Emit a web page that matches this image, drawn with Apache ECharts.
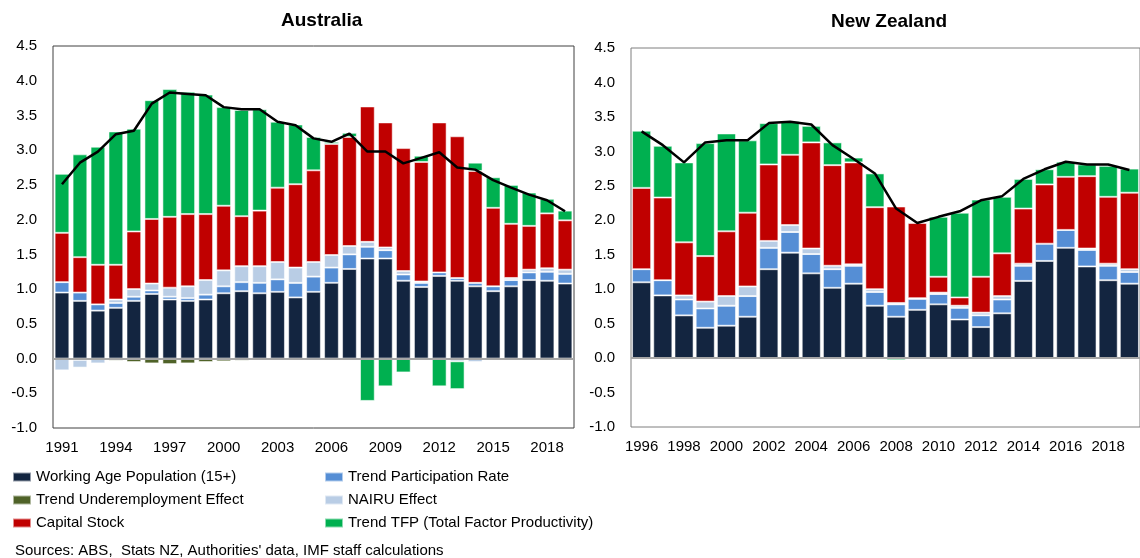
<!DOCTYPE html>
<html>
<head>
<meta charset="utf-8">
<script src="https://cdn.jsdelivr.net/npm/echarts@6/dist/echarts.min.js"></script>
<style>
  html, body { margin: 0; padding: 0; background: #fff; }
  #main { width: 1140px; height: 558px; }
</style>
</head>
<body>
<div id="main"></div>
<script>
// Australia 1991-2019
let auYears = ['1991','1992','1993','1994','1995','1996','1997','1998','1999','2000','2001','2002','2003','2004','2005','2006','2007','2008','2009','2010','2011','2012','2013','2014','2015','2016','2017','2018','2019']
let auWorkingAge = [0.95,0.83,0.69,0.73,0.83,0.93,0.85,0.83,0.85,0.94,0.97,0.94,0.96,0.88,0.96,1.09,1.29,1.44,1.44,1.12,1.03,1.19,1.12,1.04,0.97,1.04,1.13,1.12,1.08]
let auParticipation = [0.15,0.12,0.09,0.07,0.06,0.05,0.04,0.04,0.07,0.10,0.13,0.15,0.18,0.21,0.22,0.22,0.21,0.17,0.12,0.09,0.06,0.05,0.04,0.05,0.07,0.09,0.11,0.13,0.14]
let auUnderemployment = [0,-0.02,0,-0.03,-0.05,-0.07,-0.08,-0.07,-0.05,-0.04,-0.03,-0.01,0,0,0,0,0,0,0,0,0,0,0,0,0,0,0,0,0]
let auNairu = [-0.17,-0.11,-0.07,0.05,0.11,0.10,0.13,0.17,0.21,0.23,0.23,0.24,0.25,0.22,0.21,0.18,0.12,0.07,0.04,0.05,0.02,0,-0.04,-0.05,0,0.03,0.04,0.05,0.06]
let auCapital = [0.71,0.51,0.57,0.50,0.83,0.93,1.02,1.04,0.95,0.93,0.72,0.80,1.07,1.20,1.32,1.60,1.57,1.95,1.80,1.77,1.72,2.16,2.04,1.61,1.13,0.78,0.63,0.79,0.71]
let auTfp = [0.85,1.48,1.70,1.92,1.48,1.71,1.84,1.76,1.72,1.42,1.53,1.46,0.95,0.86,0.48,0.03,0.06,-0.61,-0.40,-0.20,0.09,-0.40,-0.40,0.12,0.44,0.56,0.48,0.21,0.14]
let auPotential = [2.51,2.82,2.98,3.23,3.28,3.67,3.83,3.81,3.79,3.62,3.59,3.59,3.41,3.36,3.17,3.12,3.24,2.98,2.98,2.81,2.89,2.97,2.75,2.72,2.57,2.46,2.36,2.28,2.12]

// New Zealand 1996-2019
let nzYears = ['1996','1997','1998','1999','2000','2001','2002','2003','2004','2005','2006','2007','2008','2009','2010','2011','2012','2013','2014','2015','2016','2017','2018','2019']
let nzWorkingAge = [1.10,0.91,0.62,0.44,0.47,0.60,1.29,1.53,1.23,1.02,1.08,0.76,0.60,0.70,0.78,0.56,0.45,0.65,1.12,1.41,1.60,1.33,1.13,1.08]
let nzParticipation = [0.19,0.22,0.23,0.28,0.29,0.30,0.31,0.30,0.28,0.27,0.26,0.20,0.18,0.16,0.15,0.17,0.17,0.20,0.22,0.25,0.26,0.24,0.21,0.17]
let nzUnderemployment = [0,0,0,0,0,0,0,0,0,0,0,0,0,0,0,0,0,0,0,0,0,0,0,0]
let nzNairu = [-0.02,0,0.06,0.10,0.14,0.14,0.10,0.10,0.08,0.05,0.02,0.04,0.02,0.01,0.02,0.03,0.04,0.05,0.03,0,0,0.02,0.03,0.04]
let nzCapital = [1.18,1.20,0.77,0.66,0.94,1.07,1.11,1.02,1.54,1.46,1.48,1.19,1.40,1.09,0.23,0.12,0.52,0.62,0.80,0.86,0.77,1.05,0.97,1.11]
let nzTfp = [0.83,0.75,1.16,1.64,1.42,1.05,0.60,0.49,0.24,0.33,0.07,0.49,-0.03,-0.02,0.87,1.23,1.12,0.82,0.43,0.22,0.22,0.17,0.45,0.35]
let nzPotential = [3.29,3.09,2.84,3.13,3.16,3.16,3.41,3.43,3.39,3.09,2.89,2.68,2.17,1.96,2.05,2.13,2.29,2.35,2.60,2.74,2.85,2.81,2.81,2.73]

let names = ['Working Age Population (15+)','Trend Participation Rate','Trend Underemployment Effect','NAIRU Effect','Capital Stock','Trend TFP (Total Factor Productivity)']
let colors = ['#132540','#558ED5','#4F6228','#B9CDE5','#C00000','#00B050']

let font = "'Liberation Sans', Arial, sans-serif"

function barSeries(idx, stack, data, gap){
	let s = {
		name: names[idx],
		type: 'bar',
		stack: stack,
		xAxisIndex: stack == 'au' ? 0 : 1,
		yAxisIndex: stack == 'au' ? 0 : 1,
		barCategoryGap: gap,
		data: data,
		itemStyle: {
			color: colors[idx],
			borderColor: 'rgba(255,255,255,0.55)',
			borderWidth: 1
		}
	}
	if(idx == 0){
		// grey zero line across the plot
		s.markLine = {
			silent: true,
			symbol: 'none',
			label: { show: false },
			lineStyle: { color: '#A6A6A6', width: 2, type: 'solid' },
			data: [{ yAxis: 0 }]
		}
	}
	return s
}

function lineSeries(stackIdx, data){
	return {
		name: 'Potential',
		type: 'line',
		xAxisIndex: stackIdx,
		yAxisIndex: stackIdx,
		data: data,
		symbol: 'none',
		z: 5,
		lineStyle: { color: '#000', width: 2.5 }
	}
}

function yAxis(gridIndex){
	return {
		type: 'value',
		gridIndex: gridIndex,
		min: -1,
		max: 4.5,
		interval: 0.5,
		axisLine: { show: false },
		axisTick: { show: false },
		splitLine: { show: false },
		axisLabel: {
			color: '#000',
			fontSize: 15,
			fontFamily: font,
			margin: 16,
			formatter: function(v){ return v.toFixed(1) }
		}
	}
}

function legend(left, items){
	return {
		orient: 'vertical', left: left, top: 469, padding: 0,
		itemWidth: 18, itemHeight: 9, itemGap: 7,
		icon: 'rect',
		textStyle: { fontSize: 15, color: '#000', fontFamily: font, lineHeight: 16 },
		data: items
	}
}

let myChart = echarts.init(document.getElementById('main'))
let option = {
	animation: false,
	backgroundColor: '#fff',
	title: [
		{ text: 'Australia', left: 281, top: 11, padding: 0, textStyle: { fontSize: 19, fontWeight: 'bold', color: '#000', fontFamily: font } },
		{ text: 'New Zealand', left: 831, top: 12, padding: 0, textStyle: { fontSize: 19, fontWeight: 'bold', color: '#000', fontFamily: font } }
	],
	grid: [
		{ left: 53, top: 46, width: 521, height: 382, show: true, borderColor: '#404040', borderWidth: 1 },
		{ left: 631, top: 48, width: 515, height: 379, show: true, borderColor: '#7F7F7F', borderWidth: 1 }
	],
	legend: [
		legend(12, [names[0], names[2], names[4]]),
		legend(324, [names[1], names[3], names[5]])
	],
	graphic: [
		{
			type: 'text', left: 15, top: 543,
			style: { text: "Sources: ABS,  Stats NZ, Authorities' data, IMF staff calculations", fill: '#000', font: '15px ' + font }
		}
	],
	xAxis: [
		{
			type: 'category', gridIndex: 0, data: auYears,
			axisLine: { show: false }, axisTick: { show: false },
			axisLabel: { interval: 2, color: '#000', fontSize: 15, fontFamily: font, margin: 12 }
		},
		{
			type: 'category', gridIndex: 1, data: nzYears,
			axisLine: { show: false }, axisTick: { show: false },
			axisLabel: { interval: 1, color: '#000', fontSize: 15, fontFamily: font, margin: 12 }
		}
	],
	yAxis: [yAxis(0), yAxis(1)],
	series: [
		barSeries(0, 'au', auWorkingAge, '18%'),
		barSeries(1, 'au', auParticipation, '18%'),
		barSeries(2, 'au', auUnderemployment, '18%'),
		barSeries(3, 'au', auNairu, '18%'),
		barSeries(4, 'au', auCapital, '18%'),
		barSeries(5, 'au', auTfp, '18%'),
		lineSeries(0, auPotential),
		barSeries(0, 'nz', nzWorkingAge, '10%'),
		barSeries(1, 'nz', nzParticipation, '10%'),
		barSeries(2, 'nz', nzUnderemployment, '10%'),
		barSeries(3, 'nz', nzNairu, '10%'),
		barSeries(4, 'nz', nzCapital, '10%'),
		barSeries(5, 'nz', nzTfp, '10%'),
		lineSeries(1, nzPotential)
	]
}
myChart.setOption(option)
</script>
</body>
</html>
